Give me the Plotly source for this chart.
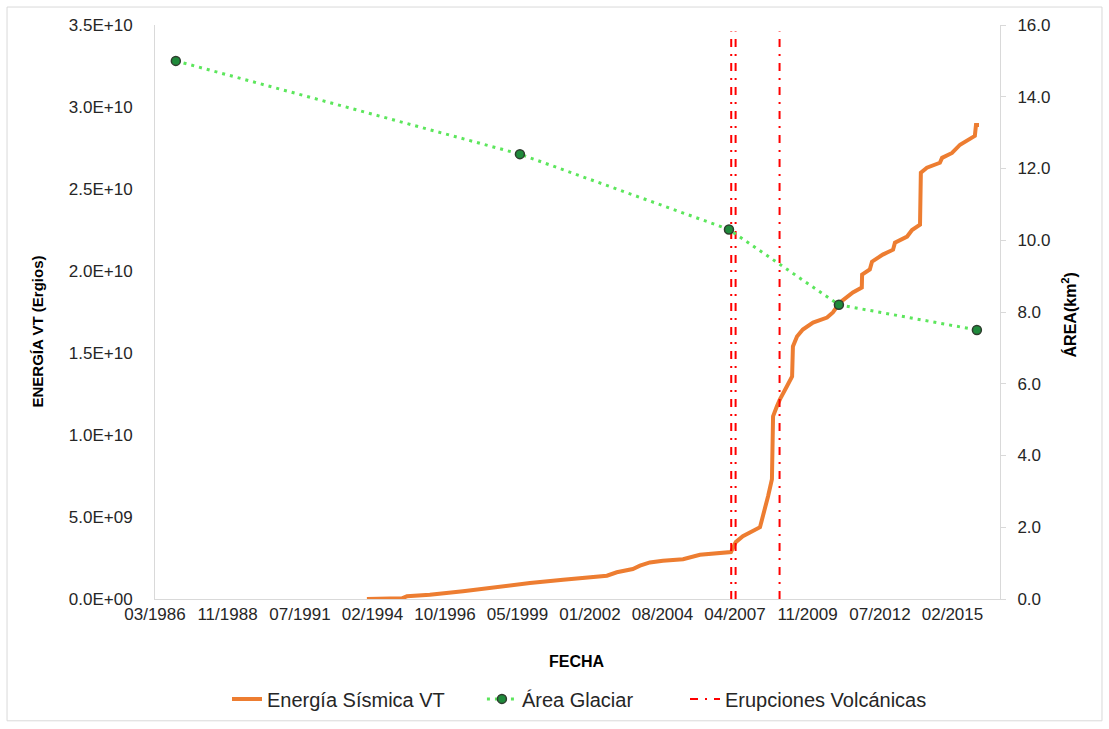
import plotly.graph_objects as go

# Cumulative VT seismic energy (ergs)
energy_dates = [
    "1993-12-05", "1995-03-14", "1995-05-19", "1996-03-17", "1997-05-30",
    "1998-01-11", "1998-11-10", "1999-11-03", "2001-01-15", "2002-04-09",
    "2002-08-18", "2002-12-27", "2003-07-27", "2003-10-30", "2004-03-09",
    "2004-08-28", "2005-05-22", "2006-01-01", "2007-02-15", "2007-04-20",
    "2007-07-23", "2008-03-06", "2008-04-16", "2008-06-21", "2008-08-11",
    "2008-08-26", "2008-10-16", "2008-11-25", "2009-02-24", "2009-05-05",
    "2009-05-16", "2009-07-09", "2009-09-24", "2010-02-06", "2010-08-11",
    "2010-10-27", "2011-01-30", "2011-07-19", "2011-11-14", "2011-11-18",
    "2012-02-28", "2012-03-28", "2012-08-18", "2013-01-01", "2013-01-26",
    "2013-07-06", "2013-09-09", "2013-12-24", "2014-01-04", "2014-03-25",
    "2014-09-13", "2014-10-12", "2015-02-21", "2015-06-07", "2015-12-20",
    "2016-01-04", "2016-02-13",
]
energy_values = [
    0.0, 4.3e7, 1.64e8, 2.6e8, 4.7e8,
    6.1e8, 7.7e8, 9.7e8, 1.17e9, 1.32e9,
    1.42e9, 1.63e9, 1.83e9, 2.03e9, 2.23e9,
    2.33e9, 2.43e9, 2.70e9, 2.86e9, 3.47e9,
    3.83e9, 4.38e9, 5.05e9, 6.27e9, 7.30e9,
    1.114e10, 1.175e10, 1.217e10, 1.296e10, 1.357e10,
    1.54e10, 1.60e10, 1.643e10, 1.686e10, 1.716e10,
    1.747e10, 1.808e10, 1.869e10, 1.899e10, 1.978e10,
    2.009e10, 2.057e10, 2.100e10, 2.130e10, 2.173e10,
    2.21e10, 2.25e10, 2.283e10, 2.60e10, 2.63e10,
    2.66e10, 2.69e10, 2.72e10, 2.77e10, 2.824e10,
    2.89e10, 2.89e10,
]

# Glacier area (km²)
area_dates = ["1987-01-01", "1999-06-23", "2007-01-20", "2011-01-15", "2016-01-16"]
area_values = [15.0, 12.4, 10.3, 8.2, 7.5]

# Volcanic eruptions
eruption_dates = ["2007-02-19", "2007-04-18", "2008-11-20"]
eruption_top = 3.46e10

# Axis ticks
x_tick_dates = [
    "1986-03-31", "1988-11-15", "1991-07-03", "1994-02-17", "1996-10-04",
    "1999-05-22", "2002-01-06", "2004-08-23", "2007-04-10", "2009-11-25",
    "2012-07-12", "2015-02-27",
]
x_tick_labels = [
    "03/1986", "11/1988", "07/1991", "02/1994", "10/1996", "05/1999",
    "01/2002", "08/2004", "04/2007", "11/2009", "07/2012", "02/2015",
]
x_range = ["1986-03-31", "2016-11-17"]
y_tick_values = [0, 5e9, 1e10, 1.5e10, 2e10, 2.5e10, 3e10, 3.5e10]
y_tick_labels = ["0.0E+00", "5.0E+09", "1.0E+10", "1.5E+10",
                 "2.0E+10", "2.5E+10", "3.0E+10", "3.5E+10"]

FONT = "Liberation Sans, Arial, sans-serif"
TXT = "#262626"
GRID = "#D9D9D9"

fig = go.Figure()

fig.add_trace(go.Scatter(
    x=energy_dates, y=energy_values, mode="lines",
    name="Energía Sísmica VT",
    line=dict(color="#ED7D31", width=4),
    yaxis="y", legend="legend",
))

fig.add_trace(go.Scatter(
    x=area_dates, y=area_values, mode="lines+markers",
    name="Área Glaciar",
    line=dict(color="#5CE65C", width=3, dash="3px,5px"),
    marker=dict(size=9, color="#1F8A3B", line=dict(color="#2E3D2E", width=1.5)),
    yaxis="y2", legend="legend2",
))

ex, ey = [], []
for d in eruption_dates:
    ex += [d, d, None]
    ey += [0, eruption_top, None]
fig.add_trace(go.Scatter(
    x=ex, y=ey, mode="lines",
    name="Erupciones Volcánicas",
    line=dict(color="#FF0000", width=2, dash="8px,7px,2px,7px"),
    yaxis="y", legend="legend3",
))


def legend_box(xpos):
    return dict(
        orientation="h", x=xpos, xanchor="left",
        y=-0.172, yanchor="middle",
        font=dict(size=20, color=TXT, family=FONT),
        bgcolor="rgba(0,0,0,0)",
    )


fig.update_layout(
    width=1109, height=729,
    margin=dict(l=155, r=109, t=25, b=129),
    paper_bgcolor="white", plot_bgcolor="white",
    font=dict(family=FONT, color=TXT, size=17),
    showlegend=True,
    legend=legend_box(0.0852),
    legend2=legend_box(0.3869),
    legend3=legend_box(0.6272),
    xaxis=dict(
        type="date", range=x_range,
        tickvals=x_tick_dates, ticktext=x_tick_labels,
        showgrid=False, zeroline=False,
        showline=True, linecolor=GRID, linewidth=1,
        ticks="", tickfont=dict(size=17, color=TXT),
    ),
    yaxis=dict(
        range=[0, 3.5e10],
        tickvals=y_tick_values, ticktext=y_tick_labels,
        showgrid=False, zeroline=False,
        showline=True, linecolor=GRID, linewidth=1,
        ticks="", ticklabelstandoff=18,
        tickfont=dict(size=17, color=TXT),
    ),
    yaxis2=dict(
        range=[0, 16], dtick=2, tickformat=".1f",
        overlaying="y", side="right",
        showgrid=False, zeroline=False,
        showline=True, linecolor=GRID, linewidth=1,
        ticks="outside", ticklen=5, tickcolor=GRID,
        ticklabelstandoff=8,
        tickfont=dict(size=17, color=TXT),
    ),
)

# Axis titles
fig.add_annotation(text="<b>ENERGÍA VT (Ergios)</b>", xref="paper", yref="paper",
                   x=-0.1385, y=0.466, xanchor="center", yanchor="middle",
                   showarrow=False, textangle=-90,
                   font=dict(size=15, color="#000000", family=FONT))
fig.add_annotation(text="<b>ÁREA(km<sup>2</sup>)</b>", xref="paper", yref="paper",
                   x=1.0828, y=0.4957, xanchor="center", yanchor="middle",
                   showarrow=False, textangle=-90,
                   font=dict(size=16, color="#000000", family=FONT))
fig.add_annotation(text="<b>FECHA</b>", xref="paper", yref="paper",
                   x=0.499, y=-0.1096, xanchor="center", yanchor="middle",
                   showarrow=False,
                   font=dict(size=16, color="#000000", family=FONT))

# Chart area border
fig.add_shape(type="rect", xref="paper", yref="paper",
              x0=-0.1751, x1=1.1207, y0=-0.2122, y1=1.0313,
              line=dict(color=GRID, width=1), fillcolor="rgba(0,0,0,0)", layer="below")

fig.write_html("out.html")
